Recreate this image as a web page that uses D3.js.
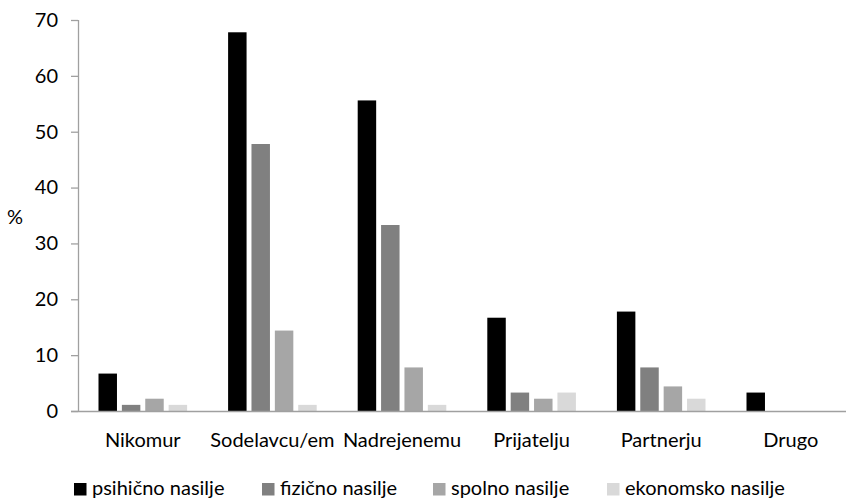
<!DOCTYPE html>
<html>
<head>
<meta charset="utf-8">
<script src="https://cdn.jsdelivr.net/npm/d3@7"></script>
<style>
  html, body { margin: 0; padding: 0; background: #fff; }
  svg text { font-family: Lato, "Open Sans", sans-serif; fill: #000; }
</style>
</head>
<body>
<svg id="chart" width="846" height="499"></svg>
<script>
// Komu so anketiranci povedali o nasilju (v %)
const categories = ["Nikomur", "Sodelavcu/em", "Nadrejenemu", "Prijatelju", "Partnerju", "Drugo"];
const seriesNames = ["psihično nasilje", "fizično nasilje", "spolno nasilje", "ekonomsko nasilje"];
const psihicno   = [6.7, 67.8, 55.6, 16.7, 17.8, 3.3];
const fizicno    = [1.1, 47.8, 33.3, 3.3, 7.8, 0];
const spolno     = [2.2, 14.4, 7.8, 2.2, 4.4, 0];
const ekonomsko  = [1.1, 1.1, 1.1, 3.3, 2.2, 0];
const yTicks = [0, 10, 20, 30, 40, 50, 60, 70];
const colors = ["#000000", "#808080", "#a6a6a6", "#d9d9d9"];

const series = [psihicno, fizicno, spolno, ekonomsko];

const svg = d3.select("#chart");
const plotLeft = 78, plotTop = 20, plotBottom = 411;
const bandW = 129.6;
const fontSize = 20;

const x = d3.scaleBand()
  .domain(categories)
  .range([plotLeft, plotLeft + bandW * categories.length])
  .paddingInner(0).paddingOuter(0);

const xs = d3.scaleBand()
  .domain(d3.range(series.length))
  .range([20.5, bandW - 20.5])
  .paddingInner(0.21);

const y = d3.scaleLinear().domain([0, 70]).range([plotBottom, plotTop]);

// Y axis
const yAxis = svg.append("g")
  .attr("transform", `translate(${plotLeft},0)`)
  .call(d3.axisLeft(y).tickValues(yTicks).tickSize(7).tickPadding(13));
yAxis.select(".domain").attr("stroke", "#a0a0a0").attr("stroke-width", 1.3)
  .attr("d", `M0.5,${plotTop}V${plotBottom}`);
yAxis.selectAll(".tick line").attr("stroke", "#a0a0a0").attr("stroke-width", 1.3);
yAxis.selectAll(".tick text").attr("font-size", fontSize).attr("font-family", "Lato, sans-serif").attr("fill", "#000");

// Bars
categories.forEach((c, ci) => {
  const g = svg.append("g").attr("transform", `translate(${x(c)},0)`);
  g.selectAll("rect")
    .data(series.map((s, si) => ({ si, v: s[ci] })))
    .join("rect")
    .attr("x", d => xs(d.si))
    .attr("width", xs.bandwidth())
    .attr("y", d => y(d.v))
    .attr("height", d => plotBottom - y(d.v))
    .attr("fill", d => colors[d.si]);
});

// X axis baseline and category labels
svg.append("line")
  .attr("x1", plotLeft - 7).attr("x2", 846)
  .attr("y1", plotBottom + 0.5).attr("y2", plotBottom + 0.5)
  .attr("stroke", "#a0a0a0").attr("stroke-width", 1.3);

svg.append("g").selectAll("text")
  .data(categories)
  .join("text")
  .attr("x", d => x(d) + bandW / 2)
  .attr("y", 447)
  .attr("text-anchor", "middle")
  .attr("font-size", fontSize)
  .text(d => d);

// Y axis title
svg.append("text")
  .attr("x", 15).attr("y", 224)
  .attr("text-anchor", "middle")
  .attr("font-size", fontSize)
  .text("%");

// Legend
const legendX = [74, 262, 433, 607];
const legend = svg.append("g").selectAll("g")
  .data(seriesNames)
  .join("g")
  .attr("transform", (d, i) => `translate(${legendX[i]},489.5)`);
legend.append("rect")
  .attr("x", 0).attr("y", -6.5)
  .attr("width", 12.5).attr("height", 12.5)
  .attr("fill", (d, i) => colors[i]);
legend.append("text")
  .attr("x", 18).attr("y", 5.5)
  .attr("font-size", fontSize)
  .text(d => d);
</script>
</body>
</html>
